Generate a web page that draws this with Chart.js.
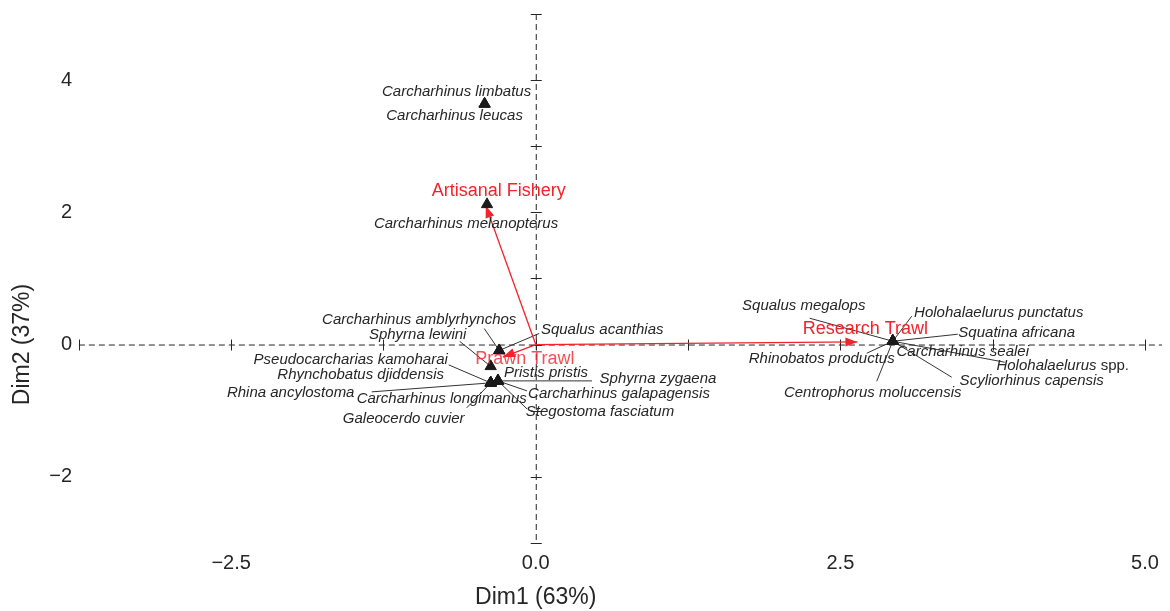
<!DOCTYPE html>
<html>
<head>
<meta charset="utf-8">
<script src="https://cdn.jsdelivr.net/npm/chart.js@4/dist/chart.umd.min.js"></script>
<style>
  html, body { margin: 0; padding: 0; background: #ffffff; }
  canvas { display: block; }
</style>
</head>
<body>
<canvas id="biplot" width="1170" height="611"></canvas>
<script>
// Species scores on the first two dimensions
const speciesNames = [
  'Carcharhinus limbatus', 'Carcharhinus leucas', 'Carcharhinus melanopterus',
  'Carcharhinus amblyrhynchos', 'Squalus acanthias', 'Sphyrna lewini',
  'Pseudocarcharias kamoharai', 'Rhynchobatus djiddensis', 'Rhina ancylostoma',
  'Carcharhinus longimanus', 'Galeocerdo cuvier',
  'Pristis pristis', 'Sphyrna zygaena', 'Carcharhinus galapagensis', 'Stegostoma fasciatum',
  'Squalus megalops', 'Holohalaelurus punctatus', 'Squatina africana', 'Carcharhinus sealei',
  'Holohalaelurus spp.', 'Scyliorhinus capensis', 'Centrophorus moluccensis', 'Rhinobatos productus'
];
const speciesDim1 = [
  -0.42, -0.42, -0.40,
  -0.30, -0.30, -0.37,
  -0.37, -0.37, -0.37,
  -0.37, -0.37,
  -0.31, -0.31, -0.31, -0.31,
  2.93, 2.93, 2.93, 2.93,
  2.93, 2.93, 2.93, 2.93
];
const speciesDim2 = [
  3.64, 3.64, 2.12,
  -0.09, -0.09, -0.33,
  -0.58, -0.58, -0.58,
  -0.58, -0.58,
  -0.55, -0.55, -0.55, -0.55,
  0.05, 0.05, 0.05, 0.05,
  0.05, 0.05, 0.05, 0.05
];

// Fishing gear vectors
const gearNames = ['Artisanal Fishery', 'Prawn Trawl', 'Research Trawl'];
const gearDim1 = [-0.41, -0.27, 2.64];
const gearDim2 = [2.10, -0.19, 0.04];

// Tick labels and axis marks
const xTickValues = [-2.5, 0, 2.5, 5];
const yTickValues = [-2, 0, 2, 4];
const xAxisMarks = [-3.75, -2.5, -1.25, 0, 1.25, 2.5, 3.75, 5];
const yAxisMarks = [-3, -2, -1, 0, 1, 2, 3, 4, 5];
const xAxisTitle = 'Dim1 (63%)';
const yAxisTitle = 'Dim2 (37%)';

// Label placement (pixel offsets from the marker: text centre, optional leader start)
const labelLayout = {
  'Carcharhinus limbatus':      { dx: -28, dy: -12 },
  'Carcharhinus leucas':        { dx: -30, dy: 12 },
  'Carcharhinus melanopterus':  { dx: -21, dy: 19 },
  'Carcharhinus amblyrhynchos': { dx: -80, dy: -31, lead: [-15, -22] },
  'Squalus acanthias':          { dx: 103, dy: -21, lead: [40, -17] },
  'Sphyrna lewini':             { dx: -73, dy: -32, lead: [-31, -25] },
  'Pseudocarcharias kamoharai': { dx: -140, dy: -23, lead: [-42, -18] },
  'Rhynchobatus djiddensis':    { dx: -130, dy: -8 },
  'Rhina ancylostoma':          { dx: -200, dy: 10, lead: [-119, 9] },
  'Carcharhinus longimanus':    { dx: -49, dy: 16 },
  'Galeocerdo cuvier':          { dx: -87, dy: 36, lead: [-24, 25] },
  'Pristis pristis':            { dx: 48, dy: -8 },
  'Sphyrna zygaena':            { dx: 160, dy: -2, lead: [94, 0] },
  'Carcharhinus galapagensis':  { dx: 121, dy: 13, lead: [29, 10] },
  'Stegostoma fasciatum':       { dx: 102, dy: 31, lead: [29, 28] },
  'Squalus megalops':           { dx: -89, dy: -35, lead: [-83, -23] },
  'Holohalaelurus punctatus':   { dx: 106, dy: -28, lead: [19, -25] },
  'Squatina africana':          { dx: 124, dy: -8, lead: [65, -7] },
  'Carcharhinus sealei':        { dx: 70, dy: 11 },
  'Holohalaelurus spp.':        { dx: 170, dy: 25, lead: [112, 21] },
  'Scyliorhinus capensis':      { dx: 139, dy: 40, lead: [59, 36] },
  'Centrophorus moluccensis':   { dx: -20, dy: 52, lead: [-16, 40] },
  'Rhinobatos productus':       { dx: -71, dy: 18, lead: [-26, 12] }
};
const gearLabelLayout = {
  'Artisanal Fishery': { dx: 13, dy: -15, alpha: 1 },
  'Prawn Trawl':       { dx: 22, dy: 2, alpha: 0.8 },
  'Research Trawl':    { dx: 8, dy: -13, alpha: 1 }
};

const FONT = "'Liberation Sans', Arial, Helvetica, sans-serif";
const INK = '#262626';
const RED = '#f4222a';

const fmtMinus = s => s.replace('-', '\u2212');

// Dashed reference axes through the origin, with their tick marks
const originAxesPlugin = {
  id: 'originAxes',
  beforeDatasetsDraw(chart) {
    const { ctx, scales: { x, y }, chartArea } = chart;
    const x0 = x.getPixelForValue(0), y0 = y.getPixelForValue(0);
    const xl = x.getPixelForValue(xAxisMarks[0]);
    const xr = chartArea.right;
    const yt = y.getPixelForValue(yAxisMarks[yAxisMarks.length - 1]);
    const yb = y.getPixelForValue(yAxisMarks[0]);
    ctx.save();
    ctx.strokeStyle = INK;
    ctx.lineWidth = 1;
    ctx.setLineDash([6, 4]);
    ctx.beginPath();
    ctx.moveTo(xl, y0 + 0.5); ctx.lineTo(xr, y0 + 0.5);
    ctx.moveTo(x0 + 0.5, yt); ctx.lineTo(x0 + 0.5, yb);
    ctx.stroke();
    ctx.setLineDash([]);
    ctx.beginPath();
    xAxisMarks.forEach(v => {
      const px = Math.round(x.getPixelForValue(v)) + 0.5;
      ctx.moveTo(px, y0 - 5); ctx.lineTo(px, y0 + 6);
    });
    yAxisMarks.forEach(v => {
      const py = Math.round(y.getPixelForValue(v)) + 0.5;
      ctx.moveTo(x0 - 5, py); ctx.lineTo(x0 + 6, py);
    });
    ctx.stroke();

    // leader lines from labels to their markers
    ctx.strokeStyle = '#333333';
    ctx.lineWidth = 1;
    ctx.beginPath();
    speciesNames.forEach((name, i) => {
      const lay = labelLayout[name];
      if (!lay || !lay.lead) return;
      const px = x.getPixelForValue(speciesDim1[i]);
      const py = y.getPixelForValue(speciesDim2[i]);
      ctx.moveTo(px + lay.lead[0], py + lay.lead[1]);
      ctx.lineTo(px, py);
    });
    ctx.stroke();
    ctx.restore();
  },
  afterDatasetDraw(chart, args) {
    const ds = chart.data.datasets[args.index];
    if (!ds.isGear) return;
    const { ctx, scales: { x, y } } = chart;
    const tx = x.getPixelForValue(ds.data[1].x), ty = y.getPixelForValue(ds.data[1].y);
    const ox = x.getPixelForValue(0), oy = y.getPixelForValue(0);
    const ang = Math.atan2(ty - oy, tx - ox);
    const len = 12, half = 4.5;
    ctx.save();
    ctx.fillStyle = RED;
    ctx.translate(tx, ty);
    ctx.rotate(ang);
    ctx.beginPath();
    ctx.moveTo(0, 0);
    ctx.lineTo(-len, -half);
    ctx.lineTo(-len, half);
    ctx.closePath();
    ctx.fill();
    ctx.restore();
  },
  afterDatasetsDraw(chart) {
    const { ctx, scales: { x, y } } = chart;
    ctx.save();
    ctx.textBaseline = 'middle';
    // species names
    speciesNames.forEach((name, i) => {
      const lay = labelLayout[name];
      const cx = x.getPixelForValue(speciesDim1[i]) + lay.dx;
      const cy = y.getPixelForValue(speciesDim2[i]) + lay.dy;
      ctx.fillStyle = INK;
      const italicFont = 'italic 15px ' + FONT;
      const uprightFont = '15px ' + FONT;
      if (name.endsWith(' spp.')) {
        const genus = name.slice(0, -5);
        ctx.font = italicFont;
        const w1 = ctx.measureText(genus).width;
        ctx.font = uprightFont;
        const w2 = ctx.measureText(' spp.').width;
        const start = cx - (w1 + w2) / 2;
        ctx.textAlign = 'left';
        ctx.font = italicFont;
        ctx.fillText(genus, start, cy);
        ctx.font = uprightFont;
        ctx.fillText(' spp.', start + w1, cy);
      } else {
        ctx.font = italicFont;
        ctx.textAlign = 'center';
        ctx.fillText(name, cx, cy);
      }
    });
    // gear names
    ctx.font = '18px ' + FONT;
    ctx.textAlign = 'center';
    gearNames.forEach((name, i) => {
      const lay = gearLabelLayout[name];
      ctx.globalAlpha = lay.alpha;
      ctx.fillStyle = RED;
      ctx.fillText(name, x.getPixelForValue(gearDim1[i]) + lay.dx, y.getPixelForValue(gearDim2[i]) + lay.dy);
    });
    ctx.globalAlpha = 1;
    // axis titles, centred on the origin
    ctx.fillStyle = INK;
    ctx.font = '23px ' + FONT;
    ctx.fillText(xAxisTitle, x.getPixelForValue(0), 598);
    ctx.translate(23, y.getPixelForValue(0));
    ctx.rotate(-Math.PI / 2);
    ctx.fillText(yAxisTitle, 0, 0);
    ctx.restore();
  }
};

const gearDatasets = gearNames.map((name, i) => ({
  label: name,
  isGear: true,
  data: [{ x: 0, y: 0 }, { x: gearDim1[i], y: gearDim2[i] }],
  showLine: true,
  borderColor: RED,
  borderWidth: 1.3,
  pointRadius: 0,
  order: 2
}));

new Chart(document.getElementById('biplot'), {
  type: 'scatter',
  data: {
    datasets: [
      {
        label: 'Species',
        data: speciesNames.map((n, i) => ({ x: speciesDim1[i], y: speciesDim2[i] })),
        pointStyle: 'triangle',
        pointRadius: 6.5,
        backgroundColor: '#1a1a1a',
        borderColor: '#1a1a1a',
        borderWidth: 1,
        order: 1
      },
      ...gearDatasets
    ]
  },
  options: {
    responsive: false,
    devicePixelRatio: 1,
    animation: false,
    layout: { padding: { left: 0, right: 8, top: 0, bottom: 0 } },
    plugins: { legend: { display: false }, tooltip: { enabled: false } },
    scales: {
      x: {
        type: 'linear',
        min: -3.79,
        max: 5.14,
        bounds: 'data',
        grid: { display: false, drawTicks: false },
        border: { display: false },
        ticks: {
          color: INK,
          font: { family: FONT, size: 20 },
          padding: 3,
          maxRotation: 0,
          autoSkip: false,
          callback: v => fmtMinus(Number(v).toFixed(1))
        },
        afterBuildTicks: s => { s.ticks = xTickValues.map(v => ({ value: v })); },
        afterFit: s => { s.height = 63; }
      },
      y: {
        type: 'linear',
        min: -3.078,
        max: 5.0,
        bounds: 'data',
        grid: { display: false, drawTicks: false },
        border: { display: false },
        ticks: {
          color: INK,
          font: { family: FONT, size: 20 },
          padding: 2,
          autoSkip: false,
          callback: v => fmtMinus(String(v))
        },
        afterBuildTicks: s => { s.ticks = yTickValues.map(v => ({ value: v })); },
        afterFit: s => { s.width = 74; }
      }
    }
  },
  plugins: [originAxesPlugin]
});
</script>
</body>
</html>
